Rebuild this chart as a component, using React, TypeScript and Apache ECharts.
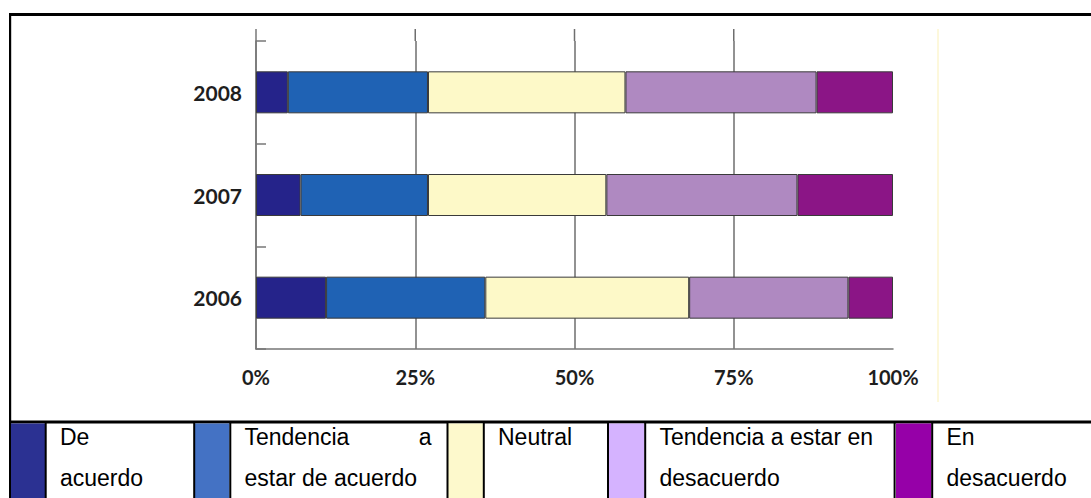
import React, { useEffect, useRef } from "react";
import * as echarts from "echarts";

const categories = ["2006", "2007", "2008"];
const seriesNames = [
  "De acuerdo",
  "Tendencia a estar de acuerdo",
  "Neutral",
  "Tendencia a estar en desacuerdo",
  "En desacuerdo",
];
const deAcuerdo = [11, 7, 5];
const tendAcuerdo = [25, 20, 22];
const neutral = [32, 28, 31];
const tendDesacuerdo = [25, 30, 30];
const enDesacuerdo = [7, 15, 12];
const xTicks = [0, 25, 50, 75];

const barColors = ["#25238a", "#1f62b4", "#fdf9c8", "#af89c1", "#8b1586"];
const legendColors = ["#2b3192", "#4472c4", "#fdf9cc", "#d5b3ff", "#9600a8"];
// legend text lines per entry (as laid out in the reference table)
const legendLines = [
  ["De", "acuerdo"],
  ["Tendencia|a", "estar de acuerdo"],
  ["Neutral"],
  ["Tendencia a estar en", "desacuerdo"],
  ["En", "desacuerdo"],
];

export default function App() {
  const ref = useRef<HTMLDivElement>(null);
  useEffect(() => {
    if (!ref.current) return;
    const chart = echarts.init(ref.current, undefined, { renderer: "svg" });
    const values = [deAcuerdo, tendAcuerdo, neutral, tendDesacuerdo, enDesacuerdo];
    const option: any = {
      animation: false,
      backgroundColor: "#ffffff",
      grid: { left: 256, right: 198, top: 41, bottom: 149, containLabel: false },
      xAxis: {
        type: "value",
        min: 0,
        max: 100,
        interval: 25,
        axisLine: { show: true, lineStyle: { color: "#777777", width: 1.5 } },
        axisTick: { show: false },
        axisLabel: {
          formatter: "{value}%",
          margin: 18,
          fontFamily: "Lato",
          fontWeight: "bold",
          fontSize: 20,
          color: "#1e1e1e",
        },
        splitLine: {
          show: true,
          showMaxLine: false,
          lineStyle: { color: "#6e6e6e", width: 1.5 },
        },
      },
      yAxis: {
        type: "category",
        data: categories,
        axisLine: { show: true, lineStyle: { color: "#777777", width: 1.5 } },
        axisTick: { show: true, inside: true, length: 10, lineStyle: { color: "#777777", width: 1.5 } },
        axisLabel: {
          margin: 14,
          fontFamily: "Lato",
          fontWeight: "bold",
          fontSize: 21,
          color: "#1e1e1e",
        },
      },
      series: seriesNames.map((name, i) => ({
        name,
        type: "bar",
        stack: "total",
        barWidth: 42,
        data: values[i],
        itemStyle: { color: barColors[i], borderColor: "#3a3a3a", borderWidth: 1 },
      })),
    };
    chart.setOption(option);

    const graphics: any[] = [];
    // extensions of axis / grid lines above the plot area
    xTicks.forEach((t) => {
      const px = chart.convertToPixel({ gridIndex: 0 }, [t, 0]) as number[];
      graphics.push({
        type: "line",
        shape: { x1: px[0], y1: 29, x2: px[0], y2: 41 },
        style: { stroke: t === 0 ? "#777777" : "#6e6e6e", lineWidth: 1.5 },
        silent: true,
      });
    });
    // faint yellow edge line of the embedded picture
    graphics.push({
      type: "line",
      shape: { x1: 938, y1: 29, x2: 938, y2: 402 },
      style: { stroke: "#fbf1b8", lineWidth: 1 },
    });
    // chart frame
    graphics.push({ type: "rect", shape: { x: 9, y: 13, width: 1082, height: 3 }, style: { fill: "#000" } });
    graphics.push({ type: "rect", shape: { x: 9, y: 13, width: 2.2, height: 485 }, style: { fill: "#000" } });
    graphics.push({ type: "rect", shape: { x: 9, y: 420.5, width: 1082, height: 3 }, style: { fill: "#000" } });

    // legend table
    const colorCells = [
      [11, 45],
      [195, 229.5],
      [448, 483],
      [609, 644.5],
      [896, 931.5],
    ];
    const textCells = [
      [46.5, 194],
      [231, 447],
      [484.5, 608],
      [646, 894.5],
      [933, 1091],
    ];
    colorCells.forEach((c, i) => {
      graphics.push({
        type: "rect",
        shape: { x: c[0], y: 423.5, width: c[1] - c[0], height: 75 },
        style: { fill: legendColors[i] },
      });
    });
    const borders = [45.7, 194.2, 230.3, 447.5, 483.8, 608, 645.2, 894.6, 932.2];
    borders.forEach((b) => {
      graphics.push({ type: "rect", shape: { x: b - 1, y: 423, width: 2, height: 75 }, style: { fill: "#000" } });
    });
    const font = '23px "Liberation Sans", Arial, sans-serif';
    const lineY = [437, 478];
    legendLines.forEach((lines, i) => {
      const tx = textCells[i][0] + 13.5;
      lines.forEach((ln, j) => {
        if (ln.includes("|")) {
          const parts = ln.split("|");
          graphics.push({
            type: "text",
            style: { text: parts[0], x: tx, y: lineY[j], font, fill: "#000", verticalAlign: "middle", align: "left" },
          });
          graphics.push({
            type: "text",
            style: { text: parts[1], x: textCells[i][1] - 15.5, y: lineY[j], font, fill: "#000", verticalAlign: "middle", align: "right" },
          });
        } else {
          graphics.push({
            type: "text",
            style: { text: ln, x: tx, y: lineY[j], font, fill: "#000", verticalAlign: "middle", align: "left" },
          });
        }
      });
    });
    chart.setOption({ graphic: graphics });

    return () => chart.dispose();
  }, []);
  return (
    <div
      ref={ref}
      style={{ position: "fixed", left: 0, top: 0, width: 1091, height: 498, background: "#fff" }}
    />
  );
}
